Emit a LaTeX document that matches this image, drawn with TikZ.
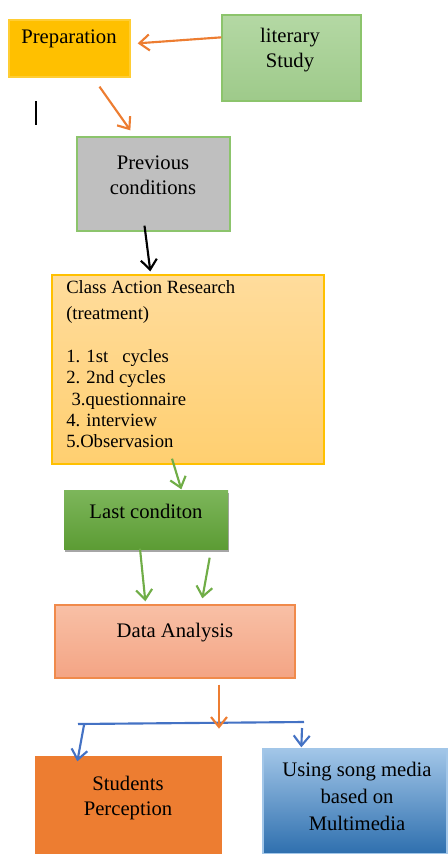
\documentclass[tikz,border=0pt]{standalone}
\usepackage{fontspec}
\setmainfont{Liberation Serif}
\usetikzlibrary{arrows.meta,calc,shadows}
\definecolor{oarrow}{HTML}{ED7D31}
\definecolor{garrow}{HTML}{70AD47}
\definecolor{barrow}{HTML}{4472C4}
\definecolor{prepfill}{HTML}{FFC000}
\definecolor{littop}{HTML}{B4D8A4}
\definecolor{litbot}{HTML}{9ECA8A}
\definecolor{litline}{HTML}{8CC46C}
\definecolor{prevfill}{HTML}{BFBFBF}
\definecolor{cartop}{HTML}{FFDC9C}
\definecolor{carbot}{HTML}{FFCF70}
\definecolor{lasttop}{HTML}{7DB65B}
\definecolor{lastbot}{HTML}{5C9C34}
\definecolor{datatop}{HTML}{F8C0A6}
\definecolor{databot}{HTML}{F4A484}
\definecolor{dataline}{HTML}{F08A4B}
\definecolor{studfill}{HTML}{ED7D31}
\definecolor{songtop}{HTML}{A2C6E8}
\definecolor{songbot}{HTML}{2E6FAE}
\tikzset{
  box/.style={rectangle, inner sep=0pt, line width=1pt},
  txt/.style={font=\fontsize{15.5}{18.75}\selectfont, align=center, inner sep=0pt, text=black},
  tip/.style={-{Straight Barb[length=7.5pt,width=12pt]}},
  oarr/.style={tip, draw=oarrow, line width=1.6pt},
  garr/.style={tip, draw=garrow, line width=1.6pt},
  karr/.style={tip, draw=black, line width=1.6pt},
  barr/.style={tip, draw=barrow, line width=1.6pt},
}
\begin{document}
\begin{tikzpicture}[x=0.75pt,y=-0.75pt]
\useasboundingbox (0,0) rectangle (447,854);
% boxes
\node[box, fill=prepfill, draw=prepfill!80!white, minimum width=90.75pt, minimum height=42.75pt] (prep) at (69.5,48.5) {};
\node[box, top color=littop, bottom color=litbot, draw=litline, minimum width=104.25pt, minimum height=64.5pt] (lit) at (291.5,58) {};
\node[box, fill=prevfill, draw=litline, minimum width=114.75pt, minimum height=70.5pt] (prev) at (153.5,184) {};
\node[box, top color=cartop, bottom color=carbot, draw=prepfill, minimum width=204pt, minimum height=141.75pt] (car) at (188,369.5) {};
\node[box, top color=lasttop, bottom color=lastbot, draw=none, minimum width=123pt, minimum height=44.25pt,
  drop shadow={shadow xshift=1pt, shadow yshift=-2.5pt, opacity=0.35, fill=black}] (last) at (146,519.5) {};
\node[box, top color=datatop, bottom color=databot, draw=dataline, minimum width=180pt, minimum height=54.75pt] (data) at (175,641.5) {};
\node[box, fill=studfill, draw=none, minimum width=140.25pt, minimum height=73.5pt] (stud) at (128.5,805) {};
\node[box, top color=songtop, bottom color=songbot, draw=songtop, minimum width=138pt, minimum height=78.75pt] (song) at (355,801.5) {};
% texts
\node[txt] (tprep) at (69,39) {Preparation};
\node[txt] (tlit) at (290,50) {literary\\Study};
\node[txt] (tprev) at (153,175) {Previous\\conditions};
\node[txt, align=left, anchor=north west, font=\fontsize{14}{16}\selectfont] (tcar) at (66,280)
  {Class Action Research\\[4pt](treatment)\\[0pt] \\[0pt]1. 1st\ \ \ cycles\\2. 2nd cycles\\\hspace{4pt}3.questionnaire\\4. interview\\5.Observasion};
\node[txt] (tlast) at (146,511) {Last conditon};
\node[txt] (tdata) at (175,633) {Data Analysis};
\node[txt] (tstud) at (128,798) {Students\\Perception};
\node[txt, font=\fontsize{15.5}{20.25}\selectfont] (tsong) at (357,796.5) {Using song media\\based on\\Multimedia};
% cursor mark
\coordinate (cur1) at (36,101);
\coordinate (cur2) at (36,125);
\draw[black, line width=1pt] (cur1) -- (cur2);
% connectors
\draw[oarr] ($(lit.north west)+(0,23)$) -- ($(prep.north east)+(7,24)$);
\draw[oarr] ($(prep.south)+(30,9)$) -- ($(prev.north west)+(54,-6)$);
\draw[karr] ($(prev.south)+(-9,-6)$) -- ($(car.north west)+(99,-3)$);
\draw[garr] ($(car.south)+(-16,-6)$) -- ($(last.north west)+(118,0)$);
\draw[garr] ($(last.south)+(-6,-1)$) -- ($(data.north west)+(91,-3)$);
\draw[garr] ($(last.south east)+(-19,8)$) -- ($(data.north west)+(148,-6)$);
\coordinate (bl) at (78,724);
\coordinate (br) at (304,722);
\draw[barrow, line width=1.6pt] (bl) -- (br);
\draw[oarr] ($(data.south)+(44,6)$) -- ($(data.south)+(44,50)$);
\draw[barr] ($(bl)+(6,1)$) -- ($(stud.north west)+(43,6)$);
\draw[barr] ($(br)+(-2,6)$) -- ($(song.north west)+(39,-1)$);
\end{tikzpicture}
\end{document}
